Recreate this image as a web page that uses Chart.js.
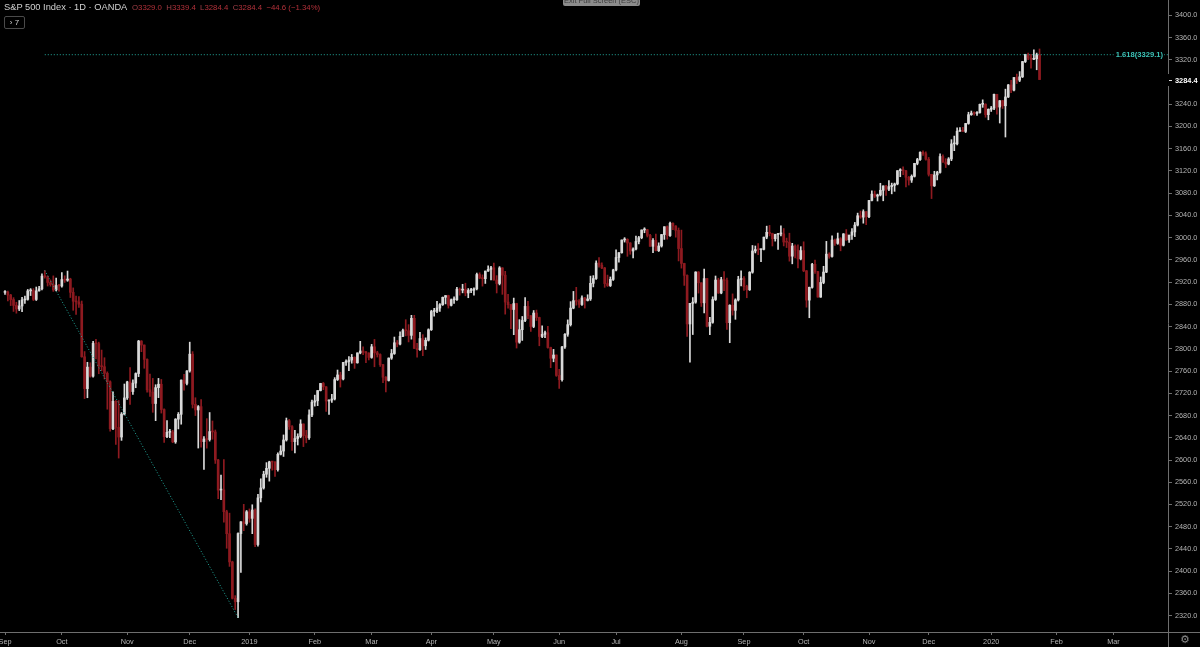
<!DOCTYPE html>
<html>
<head>
<meta charset="utf-8">
<script src="https://cdn.jsdelivr.net/npm/chart.js@4.4.0/dist/chart.umd.min.js"></script>
<style>
  html, body { margin: 0; padding: 0; background: #000; overflow: hidden; }
  #wrap { position: relative; width: 1200px; height: 647px; background: #000; }
  #chart { position: absolute; left: 0; top: 0; }
  .txt { position: absolute; white-space: nowrap; font-family: "Liberation Sans", Arial, sans-serif; }
  #title { left: 4px; top: 1px; font-size: 9.3px; line-height: 13px; color: #d2d2d2; }
  #ohlc { left: 132px; top: 2px; font-size: 7.8px; line-height: 12px; color: #b3313a; }
  #ohlc .k { color: #a04048; }
  #badge { left: 4px; top: 16px; width: 19px; height: 11px; border: 1px solid #4a4a4a; border-radius: 2px;
           font-size: 8px; line-height: 11px; color: #d0d0d0; text-align: center; }
  #exitfs { left: 563px; top: -6px; width: 77px; height: 12px; background: #8c8c8c; border-radius: 2px;
            font-size: 7.5px; line-height: 14px; color: #3c3c3c; text-align: center; }
  #gear { left: 1177px; top: 633px; width: 16px; font-size: 11px; line-height: 13px; color: #8c8c8c; text-align: center;
          font-family: "DejaVu Sans", sans-serif; }
</style>
</head>
<body>
<div id="wrap">
  <canvas id="chart" width="1200" height="647"></canvas>
  <div id="title" class="txt">S&amp;P 500 Index · 1D · OANDA</div>
  <div id="ohlc" class="txt"><span class="k">O</span>3329.0&nbsp; <span class="k">H</span>3339.4&nbsp; <span class="k">L</span>3284.4&nbsp; <span class="k">C</span>3284.4&nbsp; −44.6 (−1.34%)</div>
  <div id="badge" class="txt">› 7</div>
  <div id="exitfs" class="txt">Exit Full Screen (ESC)</div>
  <div id="gear" class="txt">⚙</div>
</div>
<script>
// daily candles [open, high, low, close], one row per weekday, from 3 Sep 2018
var sep2018 = [
  [2901.5, 2905.0, 2898.0, 2902.0], [2902.0, 2903.8, 2886.2, 2896.7], [2896.7, 2898.0, 2877.8, 2888.6],
  [2888.6, 2892.1, 2867.3, 2878.1], [2878.1, 2883.8, 2864.1, 2871.7], [2871.7, 2886.9, 2868.8, 2877.1],
  [2877.1, 2892.5, 2866.8, 2887.9], [2887.9, 2895.0, 2881.7, 2888.9], [2888.9, 2906.8, 2887.5, 2904.2],
  [2904.2, 2908.3, 2895.8, 2905.0], [2905.0, 2908.3, 2886.8, 2888.8], [2888.8, 2911.2, 2886.9, 2904.3],
  [2904.3, 2912.4, 2903.8, 2908.0], [2908.0, 2934.8, 2906.0, 2930.8], [2930.8, 2940.9, 2927.1, 2929.7],
  [2929.7, 2931.1, 2913.0, 2919.4], [2919.4, 2923.9, 2912.6, 2915.6], [2915.6, 2931.2, 2903.3, 2906.0],
  [2906.0, 2927.2, 2904.0, 2914.0], [2914.0, 2916.0, 2903.8, 2913.0]
];
var oct2018 = [
  [2913.0, 2937.1, 2911.0, 2924.6], [2924.6, 2931.4, 2919.4, 2923.4], [2923.4, 2939.9, 2921.4, 2925.5],
  [2925.5, 2927.0, 2892.3, 2901.6], [2901.6, 2909.6, 2869.3, 2885.6], [2885.6, 2894.8, 2862.1, 2884.4],
  [2884.4, 2894.0, 2874.3, 2880.3], [2880.3, 2886.0, 2784.9, 2785.7], [2785.7, 2795.1, 2710.5, 2728.4],
  [2728.4, 2775.8, 2712.0, 2767.1], [2767.1, 2775.0, 2749.0, 2750.8], [2750.8, 2813.5, 2749.2, 2809.9],
  [2809.9, 2816.9, 2781.8, 2809.2], [2809.2, 2812.0, 2755.2, 2768.8], [2768.8, 2797.8, 2760.3, 2767.8],
  [2767.8, 2784.0, 2745.7, 2755.9], [2755.9, 2758.6, 2691.4, 2740.7], [2740.7, 2742.6, 2651.9, 2656.1],
  [2656.1, 2722.7, 2654.5, 2705.6], [2705.6, 2707.0, 2628.2, 2658.7], [2658.7, 2706.9, 2603.5, 2641.3],
  [2641.3, 2685.4, 2635.3, 2682.6], [2682.6, 2736.7, 2681.0, 2711.7]
];
var nov2018 = [
  [2711.7, 2741.7, 2708.9, 2740.4], [2740.4, 2766.3, 2700.0, 2723.1], [2723.1, 2744.3, 2717.9, 2738.3],
  [2738.3, 2756.8, 2730.0, 2755.5], [2755.5, 2815.2, 2750.0, 2813.9], [2813.9, 2814.8, 2794.9, 2806.8],
  [2806.8, 2807.0, 2765.0, 2781.0], [2781.0, 2782.0, 2722.0, 2726.2], [2726.2, 2754.6, 2714.2, 2722.2],
  [2722.2, 2746.8, 2685.8, 2701.6], [2701.6, 2735.4, 2670.8, 2730.2], [2730.2, 2746.8, 2712.2, 2736.3],
  [2736.3, 2744.9, 2684.4, 2690.7], [2690.7, 2692.0, 2631.5, 2641.9], [2641.9, 2670.7, 2640.0, 2649.9],
  [2649.9, 2655.0, 2640.0, 2650.5], [2650.5, 2653.5, 2631.1, 2632.6], [2632.6, 2674.4, 2630.0, 2673.5],
  [2673.5, 2685.4, 2655.9, 2682.2], [2682.2, 2744.0, 2664.4, 2743.8], [2743.8, 2754.1, 2725.8, 2737.8],
  [2737.8, 2760.9, 2735.0, 2760.2]
];
var dec2018 = [
  [2760.2, 2812.0, 2758.0, 2790.4], [2790.4, 2795.0, 2693.6, 2700.1], [2700.1, 2712.0, 2680.0, 2690.0],
  [2690.0, 2698.0, 2621.5, 2696.0], [2696.0, 2708.5, 2623.1, 2633.1], [2633.1, 2642.0, 2583.2, 2637.7],
  [2637.7, 2674.4, 2621.3, 2636.8], [2636.8, 2685.4, 2634.0, 2651.1], [2651.1, 2670.2, 2637.3, 2650.5],
  [2650.5, 2654.0, 2593.8, 2600.0], [2600.0, 2601.1, 2530.5, 2545.9], [2545.9, 2573.0, 2528.7, 2546.2],
  [2546.2, 2600.7, 2488.1, 2507.0], [2507.0, 2509.6, 2441.2, 2467.4], [2467.4, 2504.4, 2408.6, 2416.6],
  [2416.6, 2418.0, 2350.0, 2351.1], [2351.1, 2356.0, 2331.0, 2345.0], [2345.0, 2469.2, 2316.5, 2467.7],
  [2467.7, 2489.1, 2397.9, 2488.8], [2488.8, 2520.3, 2472.9, 2485.7], [2485.7, 2509.2, 2482.8, 2506.9]
];
var jan2019 = [
  [2506.9, 2512.0, 2488.0, 2495.0], [2495.0, 2519.5, 2467.5, 2510.0], [2510.0, 2512.0, 2444.0, 2447.9],
  [2447.9, 2538.1, 2445.0, 2531.9], [2531.9, 2566.2, 2524.6, 2549.7], [2549.7, 2579.8, 2547.6, 2574.4],
  [2574.4, 2595.3, 2568.9, 2585.0], [2585.0, 2597.8, 2562.0, 2596.6], [2596.6, 2597.8, 2581.9, 2596.3],
  [2596.3, 2597.0, 2570.4, 2582.6], [2582.6, 2613.1, 2580.0, 2610.3], [2610.3, 2625.8, 2609.1, 2616.1],
  [2616.1, 2645.1, 2606.4, 2636.0], [2636.0, 2675.5, 2634.0, 2670.7], [2670.7, 2673.0, 2655.0, 2660.0],
  [2660.0, 2662.0, 2617.3, 2632.9], [2632.9, 2653.2, 2612.9, 2638.7], [2638.7, 2647.2, 2627.0, 2642.3],
  [2642.3, 2672.4, 2640.0, 2664.8], [2664.8, 2665.0, 2624.1, 2643.9], [2643.9, 2653.3, 2630.9, 2640.0],
  [2640.0, 2690.4, 2637.0, 2681.1], [2681.1, 2708.0, 2678.0, 2704.1]
];
var feb2019 = [
  [2704.1, 2716.7, 2696.9, 2706.5], [2706.5, 2724.9, 2697.8, 2724.9], [2724.9, 2738.0, 2724.2, 2737.7],
  [2737.7, 2739.5, 2726.5, 2731.6], [2731.6, 2732.0, 2687.3, 2706.1], [2706.1, 2708.1, 2681.8, 2707.9],
  [2707.9, 2718.1, 2703.8, 2709.8], [2709.8, 2748.2, 2708.0, 2744.7], [2744.7, 2761.9, 2743.0, 2753.0],
  [2753.0, 2757.9, 2731.2, 2745.7], [2745.7, 2775.7, 2744.0, 2775.6], [2775.6, 2780.0, 2770.0, 2777.0],
  [2777.0, 2786.0, 2760.7, 2779.8], [2779.8, 2789.9, 2774.1, 2784.7], [2784.7, 2785.6, 2764.8, 2774.9],
  [2774.9, 2792.7, 2774.1, 2792.7], [2792.7, 2813.5, 2791.0, 2796.1], [2796.1, 2803.5, 2789.5, 2793.9],
  [2793.9, 2795.7, 2775.1, 2792.4], [2792.4, 2793.0, 2780.0, 2784.5]
];
var mar2019 = [
  [2784.5, 2808.0, 2783.0, 2803.7], [2803.7, 2816.9, 2767.7, 2792.8], [2792.8, 2795.6, 2785.2, 2789.7],
  [2789.7, 2790.8, 2768.2, 2771.5], [2771.5, 2772.0, 2739.1, 2748.9], [2748.9, 2750.0, 2722.3, 2743.1],
  [2743.1, 2783.7, 2742.0, 2783.3], [2783.3, 2798.9, 2781.0, 2791.5], [2791.5, 2821.2, 2790.0, 2810.9],
  [2810.9, 2815.0, 2803.5, 2808.5], [2808.5, 2830.7, 2807.0, 2822.5], [2822.5, 2835.4, 2821.7, 2832.9],
  [2832.9, 2852.4, 2823.3, 2832.6], [2832.6, 2843.5, 2812.4, 2824.2], [2824.2, 2860.3, 2817.4, 2854.9],
  [2854.9, 2860.3, 2800.5, 2800.7], [2800.7, 2809.8, 2785.0, 2798.4], [2798.4, 2829.5, 2797.0, 2818.5],
  [2818.5, 2825.5, 2787.7, 2805.4], [2805.4, 2819.7, 2798.8, 2815.4], [2815.4, 2836.0, 2814.0, 2834.4]
];
var apr2019 = [
  [2834.4, 2869.4, 2833.0, 2867.2], [2867.2, 2872.9, 2858.8, 2867.6], [2867.6, 2885.3, 2865.2, 2873.4],
  [2873.4, 2881.3, 2867.1, 2879.4], [2879.4, 2893.2, 2878.0, 2892.7], [2892.7, 2895.8, 2880.8, 2895.8],
  [2895.8, 2896.5, 2873.3, 2878.2], [2878.2, 2889.7, 2877.0, 2888.2], [2888.2, 2893.4, 2881.9, 2888.3],
  [2888.3, 2910.5, 2887.0, 2907.4], [2907.4, 2909.5, 2896.5, 2905.6], [2905.6, 2916.1, 2900.7, 2907.1],
  [2907.1, 2918.0, 2895.4, 2900.5], [2900.5, 2908.4, 2891.9, 2905.0], [2905.0, 2909.0, 2901.0, 2905.5],
  [2905.5, 2909.5, 2896.4, 2908.0], [2908.0, 2936.3, 2906.0, 2933.7], [2933.7, 2936.8, 2926.1, 2927.3],
  [2927.3, 2933.1, 2912.8, 2926.2], [2926.2, 2939.9, 2917.6, 2939.9], [2939.9, 2949.5, 2939.4, 2943.0],
  [2943.0, 2948.2, 2924.1, 2945.8]
];
var may2019 = [
  [2945.8, 2954.1, 2923.4, 2923.7], [2923.7, 2931.7, 2900.5, 2917.5], [2917.5, 2947.9, 2915.0, 2945.6],
  [2945.6, 2946.0, 2898.0, 2932.5], [2932.5, 2939.4, 2862.4, 2884.1], [2884.1, 2897.9, 2873.3, 2879.4],
  [2879.4, 2880.0, 2836.4, 2870.7], [2870.7, 2891.3, 2825.4, 2881.4], [2881.4, 2882.0, 2801.4, 2811.9],
  [2811.9, 2852.5, 2810.0, 2834.4], [2834.4, 2858.2, 2815.1, 2851.0], [2851.0, 2892.2, 2849.0, 2876.3],
  [2876.3, 2885.5, 2854.2, 2859.5], [2859.5, 2860.0, 2831.3, 2840.2], [2840.2, 2868.9, 2838.0, 2864.4],
  [2864.4, 2869.7, 2851.0, 2856.3], [2856.3, 2857.0, 2805.5, 2822.2], [2822.2, 2841.4, 2820.2, 2826.1],
  [2826.1, 2832.0, 2820.0, 2829.0], [2829.0, 2840.5, 2801.4, 2802.4], [2802.4, 2803.0, 2766.1, 2783.0],
  [2783.0, 2799.0, 2776.7, 2788.9], [2788.9, 2789.0, 2750.5, 2752.1]
];
var jun2019 = [
  [2752.1, 2763.1, 2728.8, 2744.5], [2744.5, 2804.5, 2742.0, 2803.3], [2803.3, 2827.3, 2800.9, 2826.2],
  [2826.2, 2852.1, 2822.5, 2843.5], [2843.5, 2884.9, 2841.0, 2873.3], [2873.3, 2903.3, 2872.0, 2886.7],
  [2886.7, 2910.6, 2878.5, 2885.7], [2885.7, 2888.6, 2874.7, 2879.8], [2879.8, 2895.2, 2878.0, 2891.6],
  [2891.6, 2892.5, 2873.3, 2887.0], [2887.0, 2897.3, 2886.0, 2889.7], [2889.7, 2930.8, 2887.0, 2917.8],
  [2917.8, 2931.7, 2911.4, 2926.5], [2926.5, 2958.1, 2925.0, 2954.2], [2954.2, 2964.2, 2946.9, 2950.5],
  [2950.5, 2954.9, 2944.1, 2945.4], [2945.4, 2946.5, 2910.6, 2917.4], [2917.4, 2932.6, 2912.1, 2913.8],
  [2913.8, 2929.3, 2912.0, 2924.9], [2924.9, 2943.2, 2923.0, 2941.8]
];
var jul2019 = [
  [2941.8, 2977.9, 2940.0, 2964.3], [2964.3, 2973.2, 2955.9, 2973.0], [2973.0, 2995.8, 2972.0, 2995.8],
  [2995.8, 3000.0, 2992.0, 2997.0], [2997.0, 2998.0, 2966.4, 2990.4], [2990.4, 2991.0, 2970.1, 2976.0],
  [2976.0, 2981.9, 2963.4, 2979.6], [2979.6, 3003.0, 2978.0, 2993.1], [2993.1, 3002.3, 2988.8, 2999.9],
  [2999.9, 3013.9, 2998.0, 3013.8], [3013.8, 3017.8, 3008.8, 3014.3], [3014.3, 3015.0, 3001.2, 3004.0],
  [3004.0, 3005.9, 2984.4, 2984.4], [2984.4, 2998.3, 2973.1, 2995.1], [2995.1, 3006.5, 2975.9, 2976.6],
  [2976.6, 2990.7, 2975.0, 2985.0], [2985.0, 3005.9, 2983.0, 3005.5], [3005.5, 3019.6, 2996.8, 3019.6],
  [3019.6, 3021.0, 2997.2, 3003.7], [3003.7, 3028.0, 3002.0, 3025.9], [3025.9, 3026.5, 3014.3, 3021.0],
  [3021.0, 3021.5, 3000.8, 3013.2], [3013.2, 3017.4, 2958.1, 2980.4]
];
var aug2019 = [
  [2980.4, 3013.6, 2945.2, 2953.6], [2953.6, 2954.0, 2914.1, 2932.1], [2932.1, 2933.0, 2822.1, 2844.7],
  [2844.7, 2882.0, 2776.0, 2881.8], [2881.8, 2892.2, 2825.7, 2884.0], [2884.0, 2938.7, 2882.0, 2938.1],
  [2938.1, 2939.0, 2900.2, 2918.7], [2918.7, 2919.0, 2876.2, 2882.7], [2882.7, 2943.3, 2864.8, 2926.3],
  [2926.3, 2927.0, 2839.6, 2840.6], [2840.6, 2856.7, 2825.5, 2847.6], [2847.6, 2893.6, 2846.0, 2888.7],
  [2888.7, 2931.0, 2887.0, 2923.7], [2923.7, 2927.0, 2899.6, 2900.5], [2900.5, 2928.7, 2899.0, 2924.4],
  [2924.4, 2939.1, 2904.5, 2923.0], [2923.0, 2927.4, 2835.0, 2847.1], [2847.1, 2879.3, 2811.0, 2878.4],
  [2878.4, 2898.8, 2860.6, 2869.2], [2869.2, 2890.0, 2853.1, 2887.9], [2887.9, 2930.5, 2886.0, 2924.6],
  [2924.6, 2940.4, 2913.3, 2926.5]
];
var sep2019 = [
  [2926.5, 2930.0, 2905.0, 2912.0], [2912.0, 2914.4, 2891.9, 2906.3], [2906.3, 2938.8, 2905.0, 2937.8],
  [2937.8, 2985.9, 2936.0, 2976.0], [2976.0, 2985.0, 2972.5, 2978.7], [2978.7, 2989.4, 2969.4, 2978.4],
  [2978.4, 2979.4, 2957.0, 2979.0], [2979.0, 3000.9, 2978.0, 3000.9], [3000.9, 3020.7, 2998.0, 3009.6],
  [3009.6, 3022.0, 3003.2, 3007.4], [3007.4, 3008.0, 2985.0, 2998.0], [2998.0, 3006.2, 2993.7, 3005.7],
  [3005.7, 3007.8, 2978.6, 3006.7], [3006.7, 3021.2, 3003.2, 3006.8], [3006.8, 3016.4, 2985.1, 2992.1],
  [2992.1, 2999.2, 2982.2, 2991.8], [2991.8, 3008.0, 2957.7, 2966.6], [2966.6, 2989.8, 2952.9, 2984.9],
  [2984.9, 2987.3, 2963.7, 2977.6], [2977.6, 2987.3, 2945.5, 2961.8], [2961.8, 2983.8, 2960.0, 2976.7]
];
var oct2019 = [
  [2976.7, 2992.5, 2938.7, 2940.3], [2940.3, 2941.0, 2874.9, 2887.6], [2887.6, 2911.1, 2855.9, 2910.6],
  [2910.6, 2953.7, 2909.0, 2952.0], [2952.0, 2959.8, 2935.7, 2938.8], [2938.8, 2939.5, 2892.7, 2893.1],
  [2893.1, 2929.3, 2892.6, 2919.4], [2919.4, 2948.5, 2917.1, 2938.1], [2938.1, 2993.3, 2937.0, 2970.3],
  [2970.3, 2972.8, 2962.9, 2966.2], [2966.2, 3003.3, 2965.0, 2995.7], [2995.7, 2997.5, 2986.2, 2989.7],
  [2989.7, 3008.3, 2988.0, 2998.0], [2998.0, 3000.0, 2976.3, 2986.2], [2986.2, 3007.3, 2985.0, 3006.7],
  [3006.7, 3014.6, 2995.0, 2996.0], [2996.0, 3004.8, 2991.2, 3004.5], [3004.5, 3016.1, 2996.6, 3010.3],
  [3010.3, 3027.4, 3001.9, 3022.6], [3022.6, 3044.1, 3021.0, 3039.4], [3039.4, 3047.9, 3034.8, 3036.9],
  [3036.9, 3050.1, 3026.0, 3046.8], [3046.8, 3047.0, 3023.2, 3037.6]
];
var nov2019 = [
  [3037.6, 3067.0, 3036.0, 3066.9], [3066.9, 3084.0, 3066.0, 3078.3], [3078.3, 3083.9, 3072.2, 3074.6],
  [3074.6, 3078.3, 3065.9, 3076.8], [3076.8, 3097.8, 3075.0, 3085.2], [3085.2, 3093.1, 3066.3, 3093.1],
  [3093.1, 3094.0, 3075.8, 3087.0], [3087.0, 3102.6, 3084.7, 3091.8], [3091.8, 3098.1, 3078.8, 3094.0],
  [3094.0, 3098.2, 3083.3, 3096.6], [3096.6, 3120.5, 3095.0, 3120.5], [3120.5, 3124.0, 3109.6, 3122.0],
  [3122.0, 3127.6, 3113.5, 3120.2], [3120.2, 3121.0, 3091.4, 3108.5], [3108.5, 3110.1, 3094.6, 3103.5],
  [3103.5, 3112.9, 3099.3, 3110.3], [3110.3, 3133.8, 3109.0, 3133.6], [3133.6, 3142.7, 3131.0, 3140.5],
  [3140.5, 3154.3, 3139.0, 3153.6], [3153.6, 3156.0, 3148.0, 3151.0], [3151.0, 3154.3, 3139.5, 3141.0]
];
var dec2019 = [
  [3141.0, 3144.3, 3110.8, 3113.9], [3113.9, 3114.0, 3070.3, 3093.2], [3093.2, 3119.4, 3092.0, 3112.8],
  [3112.8, 3119.4, 3103.8, 3117.4], [3117.4, 3150.6, 3116.0, 3145.9], [3145.9, 3148.9, 3135.5, 3136.0],
  [3136.0, 3142.1, 3126.1, 3132.5], [3132.5, 3144.0, 3131.0, 3141.6], [3141.6, 3176.3, 3138.5, 3168.6],
  [3168.6, 3182.7, 3156.5, 3168.8], [3168.8, 3197.7, 3167.0, 3191.5], [3191.5, 3198.2, 3191.0, 3192.5],
  [3192.5, 3198.5, 3191.1, 3191.1], [3191.1, 3205.5, 3189.0, 3205.4], [3205.4, 3225.6, 3204.0, 3221.2],
  [3221.2, 3227.8, 3220.0, 3224.0], [3224.0, 3226.4, 3220.5, 3223.4], [3223.4, 3227.0, 3220.0, 3225.0],
  [3225.0, 3240.1, 3224.0, 3239.9], [3239.9, 3247.9, 3234.4, 3240.0], [3240.0, 3240.9, 3216.6, 3221.3],
  [3221.3, 3231.7, 3212.0, 3230.8]
];
var jan2020 = [
  [3230.8, 3236.0, 3227.0, 3233.0], [3233.0, 3258.1, 3230.0, 3257.9], [3257.9, 3258.0, 3222.3, 3234.9],
  [3234.9, 3246.8, 3206.2, 3246.3], [3246.3, 3247.0, 3232.4, 3237.2], [3237.2, 3267.1, 3181.0, 3253.1],
  [3253.1, 3275.6, 3252.0, 3274.7], [3274.7, 3283.0, 3260.9, 3265.4], [3265.4, 3288.1, 3264.0, 3288.1],
  [3288.1, 3294.3, 3277.2, 3283.2], [3283.2, 3298.7, 3280.7, 3289.3], [3289.3, 3317.1, 3288.0, 3316.8],
  [3316.8, 3329.9, 3315.0, 3329.6], [3329.6, 3332.0, 3320.0, 3323.0], [3323.0, 3329.9, 3304.9, 3320.8],
  [3320.8, 3337.8, 3320.0, 3321.8], [3321.8, 3332.0, 3302.0, 3329.0], [3329.0, 3339.4, 3284.4, 3284.4]
];

// x axis: bar index of the first weekday of each month, and its label
var monthTickIndex = [0, 20, 43, 65, 86, 109, 129, 150, 172, 195, 215, 238, 260, 281, 304, 325, 347, 370, 390];
var monthTickLabels = ['Sep', 'Oct', 'Nov', 'Dec', '2019', 'Feb', 'Mar', 'Apr', 'May', 'Jun',
                       'Jul', 'Aug', 'Sep', 'Oct', 'Nov', 'Dec', '2020', 'Feb', 'Mar'];
// y axis price ticks (3280 is hidden behind the last price label)
var priceTicks = [2320, 2360, 2400, 2440, 2480, 2520, 2560, 2600, 2640, 2680, 2720, 2760, 2800, 2840, 2880,
                  2920, 2960, 3000, 3040, 3080, 3120, 3160, 3200, 3240, 3320, 3360, 3400];

// fibonacci extension drawn on the chart
var fibStartIndex = 14, fibStartPrice = 2940.9;
var fibEndIndex = 82, fibEndPrice = 2316.5;
var fibRatio = '1.618', fibLevel = 3329.1;

var candles = [].concat(sep2018, oct2018, nov2018, dec2018, jan2019, feb2019, mar2019, apr2019, may2019,
  jun2019, jul2019, aug2019, sep2019, oct2019, nov2019, dec2019, jan2020);

var upColor = '#d9d9d9';
var downColor = '#8e1a20';
var fibColor = '#22a89b';
var axisColor = '#6e6e6e';
var xMin = -1.76, xMax = 409.2;
var yMin = 2290.6, yMax = 3427.5;
var fontFamily = '"Liberation Sans", Arial, sans-serif';

var candleColors = candles.map(function (c) { return c[3] >= c[0] ? upColor : downColor; });

// axis lines across the whole canvas + fib label + last price label
var overlayPlugin = {
  id: 'overlay',
  afterDraw: function (chart) {
    var c = chart.ctx, a = chart.chartArea, ys = chart.scales.y;
    var bx = Math.round(a.right) + 0.5, by = Math.round(a.bottom) + 0.5;
    c.save();
    c.strokeStyle = axisColor;
    c.lineWidth = 1;
    c.beginPath();
    c.moveTo(0, by); c.lineTo(chart.width, by);
    c.moveTo(bx, 0); c.lineTo(bx, chart.height);
    c.stroke();

    // fib level label
    var fy = ys.getPixelForValue(fibLevel);
    var txt = fibRatio + '(' + fibLevel.toFixed(1) + ')';
    c.font = 'bold 7.6px ' + fontFamily;
    c.textAlign = 'right';
    c.textBaseline = 'middle';
    var w = c.measureText(txt).width;
    c.fillStyle = '#000';
    c.fillRect(a.right - 5 - w - 2, fy - 5, w + 3, 10);
    c.fillStyle = '#3cc3b8';
    c.fillText(txt, a.right - 5, fy);

    // last price label
    var last = candles[candles.length - 1][3];
    var py = Math.round(ys.getPixelForValue(last));
    c.fillStyle = '#000';
    c.fillRect(a.right - 0.5, py - 6, chart.width - a.right, 12);
    c.strokeStyle = '#e0e0e0';
    c.beginPath();
    c.moveTo(a.right + 1, py + 0.5); c.lineTo(a.right + 4, py + 0.5);
    c.stroke();
    c.fillStyle = '#ffffff';
    c.font = 'bold 7.4px ' + fontFamily;
    c.textAlign = 'left';
    c.fillText(last.toFixed(1), a.right + 7, py + 0.5);
    c.restore();
  }
};

var ctx = document.getElementById('chart').getContext('2d');

var myChart = new Chart(ctx, {
  data: {
    datasets: [
      {
        type: 'bar',
        label: 'bodies',
        data: candles.map(function (c, i) { return { x: i, y: [c[0], c[3]] }; }),
        backgroundColor: candleColors,
        barThickness: 2,
        minBarLength: 1,
        grouped: false,
        order: 1
      },
      {
        type: 'bar',
        label: 'wicks',
        data: candles.map(function (c, i) { return { x: i, y: [c[2], c[1]] }; }),
        backgroundColor: candleColors,
        barThickness: 1,
        grouped: false,
        order: 2
      },
      {
        type: 'line',
        label: 'fib trend',
        data: [{ x: fibStartIndex, y: fibStartPrice }, { x: fibEndIndex, y: fibEndPrice }],
        borderColor: fibColor,
        borderWidth: 1,
        borderDash: [1, 2],
        pointRadius: 0,
        order: 0
      },
      {
        type: 'line',
        label: 'fib 1.618',
        data: [{ x: fibStartIndex, y: fibLevel }, { x: xMax, y: fibLevel }],
        borderColor: fibColor,
        borderWidth: 1,
        borderDash: [1, 2],
        pointRadius: 0,
        order: 0
      }
    ]
  },
  options: {
    responsive: false,
    animation: false,
    devicePixelRatio: 1,
    events: [],
    layout: { padding: 0 },
    plugins: {
      legend: { display: false },
      tooltip: { enabled: false }
    },
    scales: {
      x: {
        type: 'linear',
        min: xMin,
        max: xMax,
        offset: false,
        border: { display: false },
        grid: { offset: false, drawOnChartArea: false, drawTicks: true, tickLength: 3, color: axisColor },
        ticks: {
          color: '#b4b4b4',
          font: { family: fontFamily, size: 7.3 },
          maxRotation: 0,
          autoSkip: false,
          padding: 3,
          callback: function (v, i) { return monthTickLabels[i]; }
        },
        afterBuildTicks: function (s) { s.ticks = monthTickIndex.map(function (v) { return { value: v }; }); },
        afterFit: function (s) { s.height = 15; s.paddingLeft = 0; s.paddingRight = 0; }
      },
      y: {
        type: 'linear',
        position: 'right',
        min: yMin,
        max: yMax,
        border: { display: false },
        grid: { offset: false, drawOnChartArea: false, drawTicks: true, tickLength: 4, color: axisColor },
        ticks: {
          color: '#b4b4b4',
          font: { family: fontFamily, size: 7.3 },
          padding: 3,
          callback: function (v) { return v.toFixed(1); }
        },
        afterBuildTicks: function (s) { s.ticks = priceTicks.map(function (v) { return { value: v }; }); },
        afterFit: function (s) { s.width = 32; s.paddingTop = 0; s.paddingBottom = 0; }
      }
    }
  },
  plugins: [overlayPlugin]
});
</script>
</body>
</html>
